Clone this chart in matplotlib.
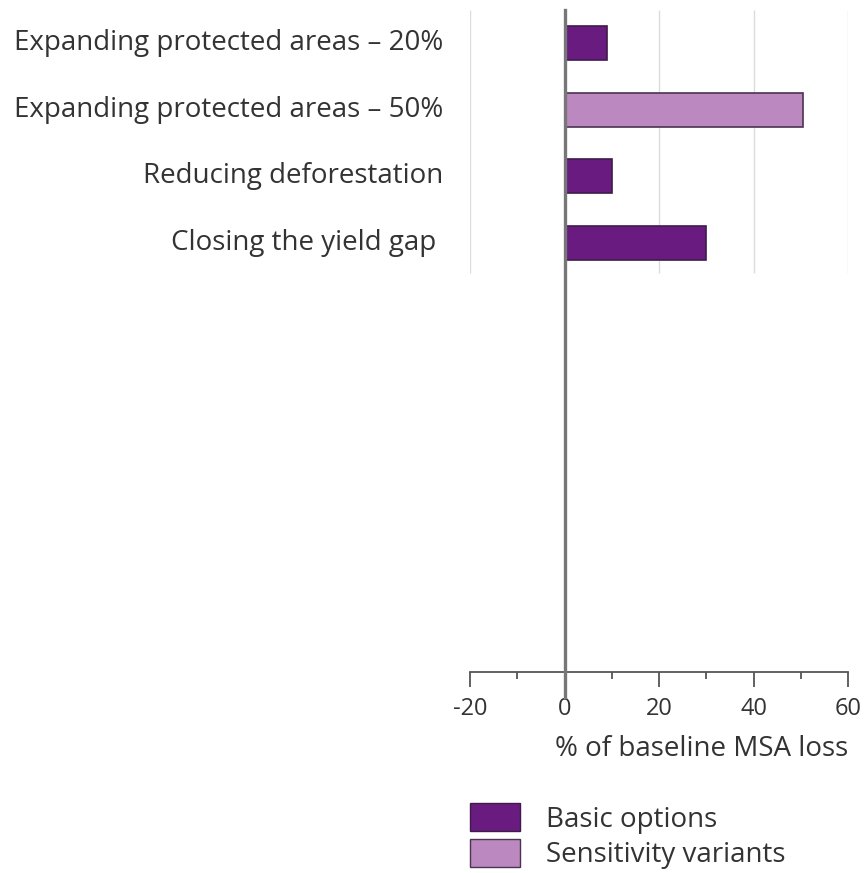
import matplotlib
matplotlib.use("Agg")
import matplotlib.pyplot as plt
from matplotlib.patches import Patch
from matplotlib.ticker import MultipleLocator

categories = ["Expanding protected areas – 20%",
              "Expanding protected areas – 50%",
              "Reducing deforestation",
              "Closing the yield gap "]
values = [9.0, 50.5, 10.0, 30.0]
series = ["Basic options", "Sensitivity variants", "Basic options", "Basic options"]
legend_labels = ["Basic options", "Sensitivity variants"]
xticks = [-20, 0, 20, 40, 60]
xlabel = "% of baseline MSA loss"

dark = "#6a1b80"
light = "#bb88c0"
colors = {"Basic options": dark, "Sensitivity variants": light}
edges = {"Basic options": "#3f1a4a", "Sensitivity variants": "#4a3450"}
text_color = "#333333"

plt.rcParams['font.family'] = ['Open Sans', 'DejaVu Sans']
plt.rcParams['axes.unicode_minus'] = False

W, H = 867, 873
fig = plt.figure(figsize=(W / 100, H / 100), dpi=100)
left, right, top, bottom = 470, 848, 10, 672
ax = fig.add_axes([left / W, 1 - bottom / H, (right - left) / W, (bottom - top) / H])

ypos = list(range(len(categories)))
ax.barh(ypos, values, height=0.51,
        color=[colors[s] for s in series],
        edgecolor=[edges[s] for s in series], linewidth=1.2, zorder=3)

ax.set_xlim(-20, 60)
ax.set_ylim(9.46, -0.5)

# gridlines only across the bar region
ax.vlines([t for t in xticks if t != 0], -0.5, 3.45, color="#dcdcdc", lw=1.0, zorder=1)
# zero line, extending below the axis
ax.axvline(0, ymin=-0.038, ymax=1.0, color="#777777", lw=2.4, zorder=4, clip_on=False)

for s in ["top", "right", "left"]:
    ax.spines[s].set_visible(False)
ax.spines["bottom"].set_color("#555555")
ax.spines["bottom"].set_linewidth(1.3)

ax.set_xticks(xticks)
ax.xaxis.set_minor_locator(MultipleLocator(10))
ax.tick_params(axis="x", which="major", length=11, width=1.3, color="#555555",
               labelsize=17, labelcolor=text_color, pad=7)
ax.tick_params(axis="x", which="minor", length=5, width=1.3, color="#555555")
ax.set_yticks([])

for y, lab in zip(ypos, categories):
    ax.text(-0.07, y, lab, transform=ax.get_yaxis_transform(), ha="right", va="center",
            fontsize=20, color=text_color)

ax.set_xlabel(xlabel, loc="right", fontsize=20, color=text_color, labelpad=10)

handles = [Patch(facecolor=colors[l], edgecolor=edges[l], linewidth=1.0) for l in legend_labels]
fig.legend(handles, legend_labels, loc="upper left",
           bbox_to_anchor=(470 / W, 1 - 803 / H), frameon=False,
           fontsize=20, labelcolor=text_color,
           handlelength=1.8, handleheight=1.2, labelspacing=0.18,
           handletextpad=0.95, borderpad=0, borderaxespad=0)

fig.savefig("out.png", dpi=100)
